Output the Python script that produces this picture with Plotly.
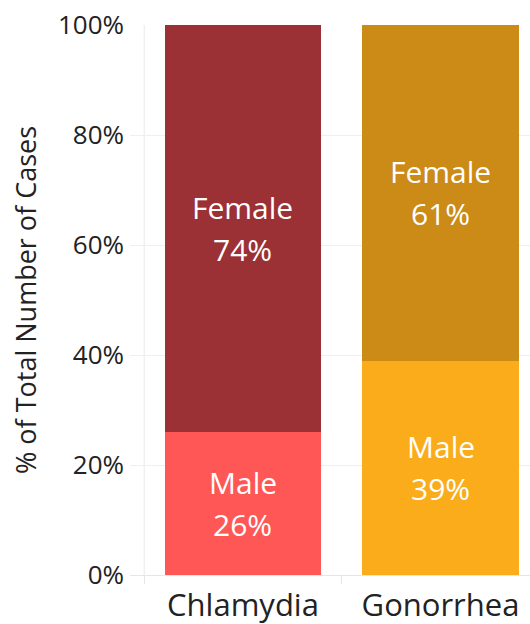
import plotly.graph_objects as go

categories = ["Chlamydia", "Gonorrhea"]
male_pct = [0.26, 0.39]
female_pct = [0.74, 0.61]
male_colors = ["#FF5656", "#FBAC1A"]
female_colors = ["#9B3134", "#CC8A16"]
y_ticks = [0, 0.2, 0.4, 0.6, 0.8, 1.0]

FONT = "Open Sans"

fig = go.Figure()
fig.add_trace(go.Bar(x=categories, y=male_pct, marker=dict(color=male_colors, line=dict(width=0)),
                     width=0.79, name="Male", hoverinfo="skip"))
fig.add_trace(go.Bar(x=categories, y=female_pct, marker=dict(color=female_colors, line=dict(width=0)),
                     width=0.79, name="Female", hoverinfo="skip"))

annotations = []
for i, cat in enumerate(categories):
    segs = [("Male", 0, male_pct[i]), ("Female", male_pct[i], female_pct[i])]
    for label, base, val in segs:
        mid = base + val / 2
        annotations.append(dict(x=cat, y=mid, text=label, showarrow=False, yshift=21,
                                font=dict(family=FONT, size=30, color="white")))
        annotations.append(dict(x=cat, y=mid, text=f"{round(val*100)}%", showarrow=False, yshift=-21,
                                font=dict(family=FONT, size=30, color="white")))

annotations.append(dict(x=0, xref="paper", y=0.5, yref="paper", xshift=-105, textangle=-90,
                        text="% of Total Number of Cases", showarrow=False, xanchor="center", yanchor="middle",
                        font=dict(family=FONT, size=27, color="#222")))

fig.update_layout(
    barmode="stack",
    width=530, height=624,
    margin=dict(l=130, r=0, t=25, b=49),
    plot_bgcolor="white", paper_bgcolor="white",
    showlegend=False,
    annotations=annotations,
    font=dict(family=FONT, color="#222"),
    shapes=[
        dict(type="line", xref="x", yref="paper", x0=-0.5, x1=-0.5, y0=0, y1=1,
             line=dict(color="#EAEAEA", width=1), layer="below"),
    ],
)
fig.update_xaxes(
    range=[-0.572, 1.453], showgrid=False, automargin=False,
    showline=True, linecolor="#E6E6E6", linewidth=1,
    ticks="outside", tickson="boundaries", ticklen=8, tickcolor="#E6E6E6",
    tickfont=dict(family=FONT, size=31, color="#222"), ticklabelstandoff=3,
    ticklabeloverflow="allow",
)
fig.update_yaxes(
    range=[0, 1], tickvals=y_ticks, tickformat=".0%", automargin=False,
    showgrid=True, gridcolor="#EFEFEF", gridwidth=1, zeroline=False,
    tickfont=dict(family=FONT, size=26, color="#222"), ticklabelstandoff=5,
    ticklabeloverflow="allow",
)

fig.write_html(
    "out.html",
    config={"displayModeBar": False},
    post_script="document.body.style.margin='0';document.body.style.overflow='hidden';",
)
